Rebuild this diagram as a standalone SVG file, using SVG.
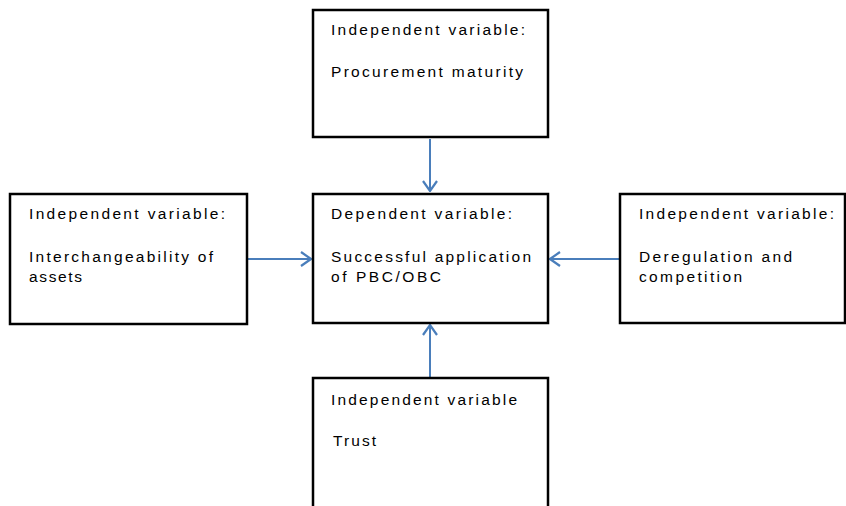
<svg xmlns="http://www.w3.org/2000/svg" width="846" height="506" viewBox="0 0 846 506">
<defs>
<style>
.box{fill:#fff;stroke:#000;stroke-width:2.5}
.t{font-family:"Liberation Sans",Arial,sans-serif;font-size:15.5px;fill:#000}
.c{stroke:#4A7EBB;stroke-width:2;fill:none}
</style>
<marker id="ah" viewBox="0 0 12 16" refX="11" refY="8" markerWidth="12" markerHeight="16" markerUnits="userSpaceOnUse" orient="auto">
<path d="M1,1 L11,8 L1,15" fill="none" stroke="#4A7EBB" stroke-width="2.2"/>
</marker>
</defs>
<rect width="846" height="506" fill="#fff"/>
<g id="connectors">
<line class="c" x1="430" y1="139" x2="430" y2="191" marker-end="url(#ah)"/>
<line class="c" x1="248" y1="259" x2="311" y2="259" marker-end="url(#ah)"/>
<line class="c" x1="619" y1="259" x2="550" y2="259" marker-end="url(#ah)"/>
<line class="c" x1="430" y1="377" x2="430" y2="325" marker-end="url(#ah)"/>
</g>
<g id="top">
<rect class="box" x="313" y="10" width="235" height="127"/>
<text class="t" x="331" y="35" textLength="194">Independent variable:</text>
<text class="t" x="331" y="77" textLength="192">Procurement maturity</text>
</g>
<g id="left">
<rect class="box" x="10" y="194" width="237" height="130"/>
<text class="t" x="29" y="219" textLength="196">Independent variable:</text>
<text class="t" x="29" y="262" textLength="184">Interchangeability of</text>
<text class="t" x="29" y="282" textLength="53">assets</text>
</g>
<g id="center">
<rect class="box" x="313" y="194" width="235" height="129"/>
<text class="t" x="331" y="219" textLength="181">Dependent variable:</text>
<text class="t" x="331" y="262" textLength="200">Successful application</text>
<text class="t" x="331" y="282" textLength="110">of PBC/OBC</text>
</g>
<g id="right">
<rect class="box" x="620" y="194" width="225" height="129"/>
<text class="t" x="639" y="219" textLength="195">Independent variable:</text>
<text class="t" x="639" y="262" textLength="153">Deregulation and</text>
<text class="t" x="639" y="282" textLength="103">competition</text>
</g>
<g id="bottom">
<rect class="box" x="313" y="378" width="235" height="160"/>
<text class="t" x="331" y="405" textLength="186">Independent variable</text>
<text class="t" x="333" y="446" textLength="43">Trust</text>
</g>
</svg>
